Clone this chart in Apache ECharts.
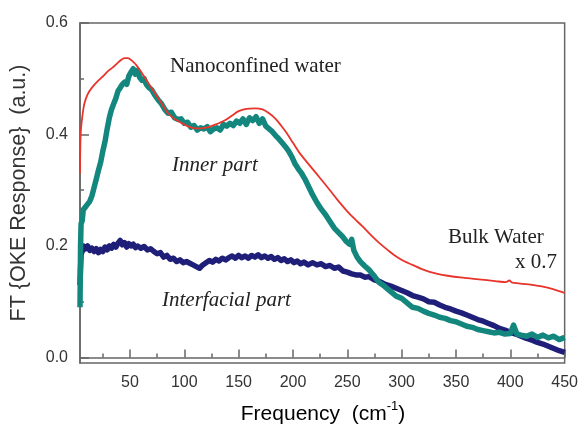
<!DOCTYPE html>
<html><head><meta charset="utf-8">
<script src="https://cdn.jsdelivr.net/npm/echarts@6/dist/echarts.min.js"></script>
<style>html,body{margin:0;padding:0;background:#fff}#c{width:581px;height:428px}</style>
</head><body><div id="c"></div>
<script>
// Tick labels
const xMajorTicks = [50, 100, 150, 200, 250, 300, 350, 400, 450];
const xMinorTicks = [25, 75, 125, 175, 225, 275, 325, 375, 425];
const yMajorTicks = [0, 0.2, 0.4, 0.6];
const yMinorTicks = [0.1, 0.3, 0.5];

// Bulk water x 0.7 (red)
const bulkFreq = [4, 4.6, 6, 8, 11, 15, 21, 26, 30, 34, 38, 42, 45, 48, 52, 56, 61, 67, 73, 79, 85, 91, 98, 104, 110, 116, 122, 129, 137, 144, 150, 157, 165, 172, 178, 184, 189, 194, 200, 206, 213, 221, 229, 236, 240, 250, 257, 264, 272, 279, 287, 295, 302, 310, 318, 325, 333, 341, 356, 371, 386, 396, 399, 402, 417, 432, 450];
const bulkValue = [0.33, 0.40, 0.43, 0.455, 0.472, 0.484, 0.497, 0.506, 0.514, 0.52, 0.527, 0.534, 0.537, 0.537, 0.532, 0.524, 0.51, 0.492, 0.474, 0.456, 0.438, 0.428, 0.42, 0.414, 0.411, 0.411, 0.413, 0.418, 0.425, 0.434, 0.442, 0.446, 0.447, 0.445, 0.438, 0.428, 0.416, 0.403, 0.385, 0.367, 0.35, 0.331, 0.312, 0.295, 0.285, 0.262, 0.248, 0.235, 0.219, 0.206, 0.193, 0.181, 0.173, 0.166, 0.159, 0.154, 0.15, 0.147, 0.143, 0.14, 0.137, 0.135, 0.138, 0.134, 0.131, 0.126, 0.116];

// Inner part (teal)
const innerFreq = [4, 4.5, 5, 6, 7, 9, 11, 13, 15, 17, 19, 21, 23, 25, 27, 29, 31, 33, 35, 37, 39, 41, 43, 45, 47, 49, 51, 53, 55, 57, 59, 61, 63, 65, 67, 70, 73, 76, 79, 82, 85, 88, 91, 94, 97, 100, 103, 106, 109, 112, 115, 118, 121, 124, 127, 130, 133, 136, 139, 142, 145, 148, 151, 154, 157, 160, 163, 166, 169, 172, 175, 178, 181, 184, 187, 190, 193, 196, 199, 202, 205, 208, 211, 214, 218, 222, 226, 230, 234, 238, 242, 246, 249, 252, 254, 256, 259, 262, 266, 270, 274, 279, 284, 290, 295, 300, 305, 310, 315, 320, 325, 330, 335, 340, 345, 350, 355, 360, 365, 370, 375, 380, 385, 390, 395, 400, 403, 406, 410, 415, 420, 425, 430, 435, 440, 445, 450];
const innerValue = [0.09, 0.2, 0.24, 0.245, 0.265, 0.27, 0.275, 0.28, 0.29, 0.305, 0.32, 0.336, 0.35, 0.37, 0.387, 0.41, 0.43, 0.445, 0.455, 0.465, 0.478, 0.484, 0.49, 0.494, 0.49, 0.505, 0.512, 0.518, 0.508, 0.515, 0.502, 0.497, 0.5, 0.49, 0.485, 0.48, 0.47, 0.462, 0.455, 0.445, 0.438, 0.44, 0.43, 0.427, 0.428, 0.42, 0.422, 0.413, 0.416, 0.408, 0.412, 0.41, 0.414, 0.405, 0.41, 0.412, 0.408, 0.418, 0.415, 0.42, 0.416, 0.424, 0.42, 0.428, 0.418, 0.43, 0.425, 0.432, 0.42, 0.428, 0.415, 0.41, 0.405, 0.398, 0.392, 0.385, 0.378, 0.37, 0.36, 0.347, 0.338, 0.33, 0.32, 0.308, 0.292, 0.278, 0.266, 0.256, 0.244, 0.232, 0.224, 0.216, 0.208, 0.203, 0.212, 0.192, 0.18, 0.172, 0.164, 0.157, 0.148, 0.135, 0.128, 0.118, 0.11, 0.106, 0.098, 0.09, 0.088, 0.083, 0.079, 0.076, 0.072, 0.07, 0.066, 0.064, 0.06, 0.056, 0.054, 0.05, 0.048, 0.046, 0.044, 0.045, 0.042, 0.043, 0.058, 0.042, 0.04, 0.038, 0.042, 0.036, 0.04, 0.035, 0.038, 0.032, 0.036];

// Interfacial part (navy)
const interFreq = [4, 4.5, 5, 6, 7, 9, 11, 13, 15, 17, 19, 21, 23, 25, 27, 29, 31, 33, 35, 37, 39, 41, 43, 45, 47, 49, 51, 53, 55, 57, 60, 63, 66, 69, 72, 75, 78, 81, 84, 87, 90, 93, 96, 99, 102, 105, 108, 111, 114, 117, 120, 123, 126, 129, 132, 135, 138, 141, 144, 147, 150, 153, 156, 159, 162, 165, 168, 171, 174, 177, 180, 183, 186, 189, 192, 195, 198, 201, 204, 207, 210, 214, 218, 222, 226, 230, 234, 238, 242, 246, 250, 254, 258, 262, 266, 270, 275, 280, 285, 290, 295, 300, 305, 310, 315, 320, 325, 330, 335, 340, 345, 350, 355, 360, 365, 370, 375, 380, 385, 390, 395, 400, 405, 410, 415, 420, 425, 430, 435, 440, 445, 450];
const interValue = [0.13, 0.16, 0.185, 0.19, 0.2, 0.195, 0.2, 0.192, 0.196, 0.19, 0.195, 0.188, 0.194, 0.19, 0.198, 0.193, 0.2, 0.196, 0.203, 0.198, 0.205, 0.21, 0.202, 0.206, 0.198, 0.204, 0.2, 0.203, 0.197, 0.2, 0.196, 0.199, 0.193, 0.195, 0.19, 0.186, 0.188, 0.18, 0.183, 0.176, 0.178, 0.172, 0.175, 0.17, 0.172, 0.169, 0.166, 0.163, 0.16, 0.166, 0.17, 0.174, 0.171, 0.176, 0.173, 0.178, 0.175, 0.179, 0.182, 0.178, 0.183, 0.179, 0.182, 0.178, 0.183, 0.18, 0.184, 0.179, 0.182, 0.178, 0.181, 0.176, 0.179, 0.174, 0.177, 0.172, 0.175, 0.17, 0.173, 0.168, 0.171, 0.166, 0.17, 0.166, 0.168, 0.163, 0.165, 0.16, 0.162, 0.155, 0.153, 0.15, 0.148, 0.148, 0.144, 0.145, 0.139, 0.136, 0.131, 0.128, 0.124, 0.12, 0.116, 0.111, 0.108, 0.105, 0.1, 0.099, 0.094, 0.09, 0.087, 0.083, 0.08, 0.076, 0.072, 0.068, 0.065, 0.061, 0.057, 0.052, 0.049, 0.045, 0.042, 0.038, 0.034, 0.031, 0.027, 0.024, 0.02, 0.016, 0.012, 0.009];

const zip = (a, b) => a.map((v, i) => [v, b[i]]);

const chart = echarts.init(document.getElementById('c'), null, {renderer: 'canvas'});
const axisColor = '#666';
const labelFont = {fontFamily: 'Liberation Sans', fontSize: 16, color: '#333'};

chart.setOption({
  animation: false,
  backgroundColor: '#fff',
  grid: {left: 80, right: 15, top: 23, bottom: 65, show: true, borderColor: axisColor, borderWidth: 1.5},
  xAxis: [
    {type: 'value', min: 4, max: 450, position: 'bottom',
     axisLine: {show: true, lineStyle: {color: axisColor, width: 1.5}},
     axisTick: {show: true, inside: true, length: 8, lineStyle: {color: axisColor, width: 1.5}, customValues: xMajorTicks},
     axisLabel: Object.assign({show: true, margin: 12, customValues: xMajorTicks}, labelFont),
     splitLine: {show: false}},
    {type: 'value', min: 4, max: 450, position: 'bottom',
     axisLine: {show: false},
     axisTick: {show: true, inside: true, length: 4, lineStyle: {color: axisColor, width: 1.5}, customValues: xMinorTicks},
     axisLabel: {show: false}, splitLine: {show: false}}
  ],
  yAxis: [
    {type: 'value', min: -0.01, max: 0.6, position: 'left',
     axisLine: {show: true, lineStyle: {color: axisColor, width: 1.5}},
     axisTick: {show: true, inside: true, length: 9, lineStyle: {color: axisColor, width: 1.5}, customValues: yMajorTicks},
     axisLabel: Object.assign({show: true, margin: 12, customValues: yMajorTicks, formatter: v => v.toFixed(1)}, labelFont),
     splitLine: {show: false}},
    {type: 'value', min: -0.01, max: 0.6, position: 'left',
     axisLine: {show: false},
     axisTick: {show: true, inside: true, length: 4, lineStyle: {color: axisColor, width: 1.5}, customValues: yMinorTicks},
     axisLabel: {show: false}, splitLine: {show: false}}
  ],
  series: [
    {name: 'Interfacial part', type: 'line', data: zip(interFreq, interValue), showSymbol: false, symbol: 'none',
     lineStyle: {color: '#1f1f7a', width: 5.5, join: 'round'}, z: 2},
    {name: 'Inner part', type: 'line', data: zip(innerFreq, innerValue), showSymbol: false, symbol: 'none',
     lineStyle: {color: '#13877e', width: 5.5, join: 'round'}, z: 3},
    {name: 'Bulk Water x 0.7', type: 'line', data: zip(bulkFreq, bulkValue), showSymbol: false, symbol: 'none', smooth: 0.3,
     lineStyle: {color: '#e8342b', width: 1.8}, z: 4}
  ],
  graphic: [
    {type: 'text', x: 170, y: 66, style: {text: 'Nanoconfined water', font: '21px "Liberation Serif"', fill: '#222', textVerticalAlign: 'middle'}},
    {type: 'text', x: 172, y: 165, style: {text: 'Inner part', font: 'italic 21px "Liberation Serif"', fill: '#222', textVerticalAlign: 'middle'}},
    {type: 'text', x: 162, y: 300, style: {text: 'Interfacial part', font: 'italic 21px "Liberation Serif"', fill: '#222', textVerticalAlign: 'middle'}},
    {type: 'text', x: 448, y: 237, style: {text: 'Bulk Water', font: '21px "Liberation Serif"', fill: '#222', textVerticalAlign: 'middle'}},
    {type: 'text', x: 557, y: 262, style: {text: 'x 0.7', font: '21px "Liberation Serif"', fill: '#222', textAlign: 'right', textVerticalAlign: 'middle'}},
    {type: 'text', x: 19, y: 193, rotation: Math.PI / 2,
     style: {text: 'FT {OKE Response}  (a.u.)', font: '21.5px "Liberation Sans"', fill: '#333', textAlign: 'center', textVerticalAlign: 'middle'}},
    {type: 'text', x: 323, y: 412,
     style: {text: '{n|Frequency  (cm}{s|-1}{n|)}', textAlign: 'center', textVerticalAlign: 'middle',
       rich: {n: {fontFamily: 'Liberation Sans', fontSize: 21, color: '#333', lineHeight: 25, verticalAlign: 'bottom'},
              s: {fontFamily: 'Liberation Sans', fontSize: 13, color: '#333', lineHeight: 25, verticalAlign: 'top', padding: [0, 0, 10, 0]}}}}
  ]
});
</script>
</body></html>
